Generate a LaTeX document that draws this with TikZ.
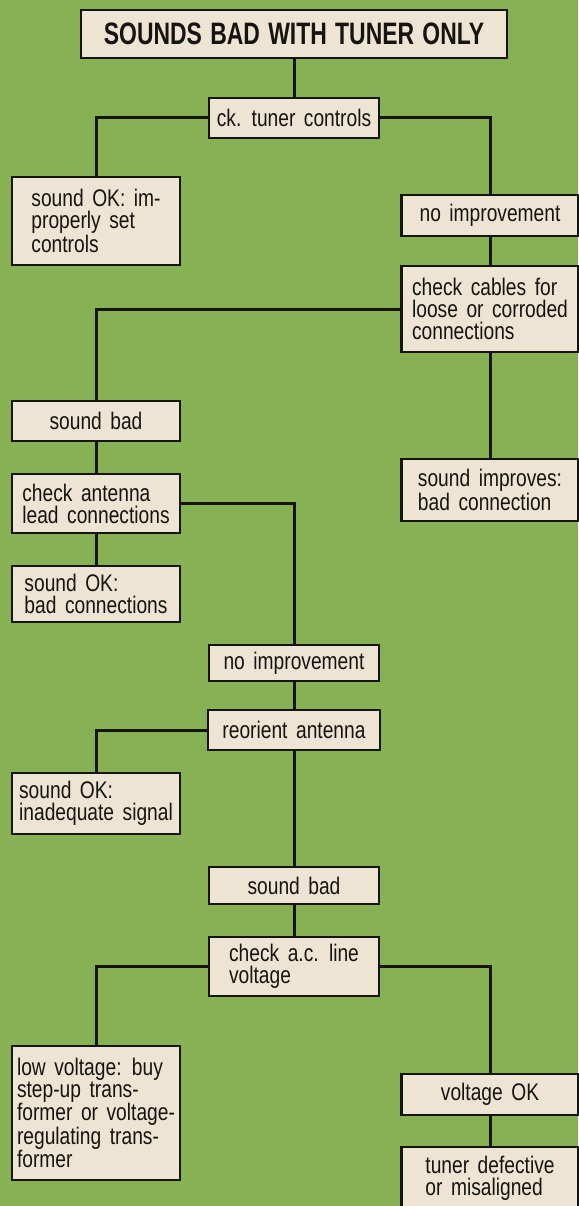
\documentclass[tikz,border=0pt]{standalone}
\usepackage{fontspec}
\setmainfont{Liberation Sans}[FakeStretch=0.8, WordSpace=1.6]
\newfontfamily\titlefont{Liberation Sans}[FakeStretch=0.74, WordSpace=1.3]
\usepackage{tikz}
\usetikzlibrary{positioning}

\definecolor{field}{RGB}{135,178,84}
\definecolor{paper}{RGB}{237,228,211}
\definecolor{ink}{RGB}{22,20,16}

\newcommand{\boxfont}{\fontsize{24}{22}\selectfont}
\tikzstyle{box} = [rectangle, draw=ink, line width=2.4pt, fill=paper, inner sep=0pt, text=ink, font=\boxfont, align=left]
\tikzstyle{left_box} = [box, minimum width=168]
\tikzstyle{mid_box} = [box, minimum width=170]
\tikzstyle{right_box} = [box, minimum width=177]
\tikzstyle{title_box} = [box, minimum width=426, minimum height=48, font=\titlefont\bfseries\fontsize{31}{31}\selectfont]
\tikzstyle{wire} = [draw=ink, line width=3pt]

\begin{document}
\begin{tikzpicture}[x=1pt, y=-1pt]
  \fill [field] (0, 0) rectangle (578, 1206);
  \useasboundingbox (0, 0) rectangle (578, 1206);

  % middle column
  \node (title) [title_box] at (294, 34) {SOUNDS BAD WITH TUNER ONLY};
  \node (ck) [mid_box, minimum height=40] at (294, 118) {ck. tuner controls};
  \node (noimp2) [mid_box, minimum height=36] at (294, 663) {no improvement};
  \node (reorient) [mid_box, minimum width=172, minimum height=40] at (294, 730) {reorient antenna};
  \node (bad2) [mid_box, minimum height=37] at (294, 885.5) {sound bad};
  \node (acline) [mid_box, minimum height=59] at (294, 966.5) {check a.c. line\\voltage};

  % left column
  \node (okctl) [left_box, minimum height=88] at (96, 221) {sound OK: im-\\properly set\\controls};
  \node (bad1) [left_box, minimum height=40] at (96, 421) {sound bad};
  \node (antenna) [left_box, minimum height=59] at (96, 503.5) {check antenna\\lead connections};
  \node (okconn) [left_box, minimum height=56] at (96, 594) {sound OK:\\bad connections};
  \node (oksignal) [left_box, minimum height=61] at (96, 803.5) {sound OK:\\inadequate signal};
  \node (lowv) [left_box, minimum height=134] at (96, 1113) {low voltage: buy\\step-up trans-\\former or voltage-\\regulating trans-\\former};

  % right column
  \node (noimp1) [right_box, minimum height=41] at (490, 215.5) {no improvement};
  \node (cables) [right_box, minimum height=86] at (490, 309) {check cables for\\loose or corroded\\connections};
  \node (improves) [right_box, minimum height=62] at (490, 490) {sound improves:\\bad connection};
  \node (voltok) [right_box, minimum height=41] at (490, 1094.5) {voltage OK};
  \node (defective) [right_box, minimum height=62] at (490, 1178) {tuner defective\\or misaligned};

  % connections
  \path [wire] (title) -- (ck);
  \path [wire] (ck.west) -| (okctl.north);
  \path [wire] (ck.east) -| (noimp1.north);
  \path [wire] (noimp1) -- (cables);
  \path [wire] (cables.west) -| (bad1.north);
  \path [wire] (cables) -- (improves);
  \path [wire] (bad1) -- (antenna);
  \path [wire] (antenna) -- (okconn);
  \path [wire] (antenna.east) -| (noimp2.north);
  \path [wire] (noimp2) -- (reorient);
  \path [wire] (reorient.west) -| (oksignal.north);
  \path [wire] (reorient) -- (bad2);
  \path [wire] (bad2) -- (acline);
  \path [wire] (acline.west) -| (lowv.north);
  \path [wire] (acline.east) -| (voltok.north);
  \path [wire] (voltok) -- (defective);
\end{tikzpicture}
\end{document}
